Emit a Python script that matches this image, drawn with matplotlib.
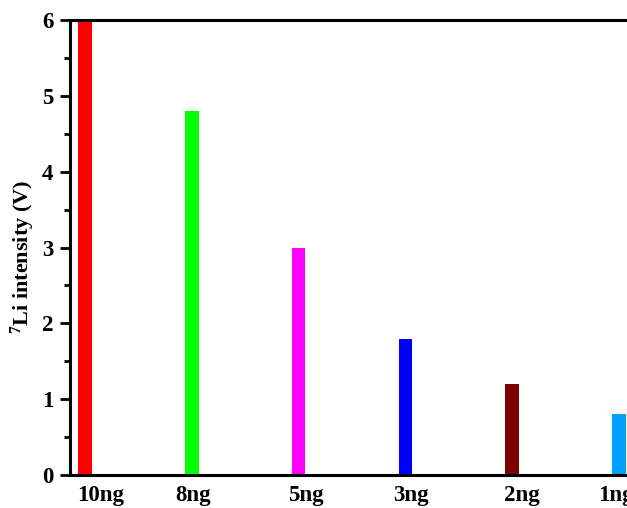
import matplotlib.pyplot as plt
import matplotlib.transforms as mtransforms
import numpy as np
from matplotlib.ticker import MultipleLocator

labels = ["10ng", "8ng", "5ng", "3ng", "2ng", "1ng"]
intensity = [6.0, 4.8, 3.0, 1.8, 1.2, 0.8]
colors = ["#FF0000", "#00FF00", "#FF00FF", "#0000FF", "#800000", "#00A2FF"]
# the category labels in the original sit slightly off their bars (points)
label_shift = [11, 1, 5, 4, 7, -2]

plt.rcParams['font.family'] = ['Liberation Serif', 'DejaVu Serif']
plt.rcParams['font.weight'] = 'bold'
plt.rcParams['mathtext.fontset'] = 'custom'
plt.rcParams['mathtext.rm'] = 'Liberation Serif:bold'
plt.rcParams['mathtext.bf'] = 'Liberation Serif:bold'
plt.rcParams['mathtext.default'] = 'bf'

fig = plt.figure(figsize=(6.27, 5.08), dpi=100)
# axes run past the right edge (reference is cropped)
ax = fig.add_axes([70 / 627, 33 / 508, 640 / 627, 455 / 508])

x = np.arange(len(labels))
ax.bar(x, intensity, width=0.127, color=colors)

ax.set_xlim(-0.14, -0.14 + 640 / 106.8)
ax.set_ylim(0, 6)
ax.set_xticks(x)
ax.set_xticklabels(labels, fontsize=16.5, fontweight='bold')
ax.tick_params(axis='x', length=0, pad=7)
for t, dx in zip(ax.get_xticklabels(), label_shift):
    t.set_transform(t.get_transform() + mtransforms.ScaledTranslation(dx / 72, 0, fig.dpi_scale_trans))
ax.yaxis.set_major_locator(MultipleLocator(1))
ax.yaxis.set_minor_locator(MultipleLocator(0.5))
ax.tick_params(axis='y', which='major', length=7, width=2, labelsize=16.5, pad=5)
ax.tick_params(axis='y', which='minor', length=4, width=2)
for t in ax.get_yticklabels():
    t.set_fontweight('bold')

for s in ['left', 'bottom', 'top']:
    ax.spines[s].set_linewidth(2.2)
ax.spines['right'].set_visible(False)

ax.set_ylabel(r"$^{7}$Li intensity (V)", fontsize=16, fontweight='bold')
ax.yaxis.set_label_coords(-0.052, 0.48)

fig.savefig("out.png", dpi=100)
